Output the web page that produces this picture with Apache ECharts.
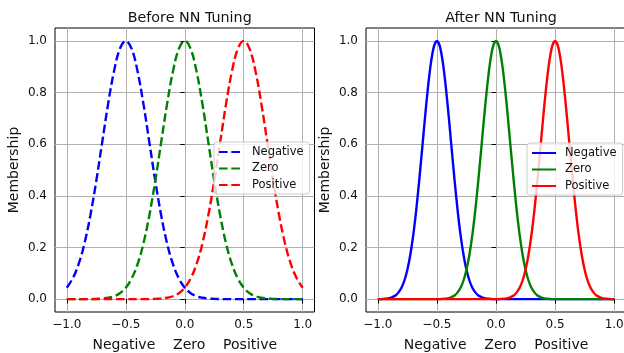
<!DOCTYPE html>
<html>
<head>
<meta charset="utf-8">
<script src="https://cdn.jsdelivr.net/npm/echarts@6/dist/echarts.min.js"></script>
<style>html,body{margin:0;padding:0;background:#fff}#c{width:624px;height:353px}</style>
</head>
<body>
<div id="c"></div>
<script>
const titles = ['Before NN Tuning', 'After NN Tuning'];
const seriesNames = ['Negative', 'Zero', 'Positive'];
const xTicks = [-1.0, -0.5, 0.0, 0.5, 1.0];
const yTicks = [0.0, 0.2, 0.4, 0.6, 0.8, 1.0];
const xLabelText = 'Negative    Zero    Positive';
const yLabelText = 'Membership';

const xBefore = [-1.00,-0.95,-0.90,-0.85,-0.80,-0.75,-0.70,-0.65,-0.60,-0.55,-0.50,-0.45,-0.40,-0.35,-0.30,-0.25,-0.20,-0.15,-0.10,-0.05,0.00,0.05,0.10,0.15,0.20,0.25,0.30,0.35,0.40,0.45,0.50,0.55,0.60,0.65,0.70,0.75,0.80,0.85,0.90,0.95,1.00];
const negBefore = [0.044,0.080,0.135,0.216,0.325,0.458,0.607,0.755,0.882,0.969,1.000,0.969,0.882,0.755,0.607,0.458,0.325,0.216,0.135,0.080,0.044,0.023,0.011,0.005,0.002,0.001,0.000,0,0,0,0,0,0,0,0,0,0,0,0,0,0];
const zeroBefore = [0,0,0,0,0,0.001,0.002,0.005,0.011,0.023,0.044,0.080,0.135,0.216,0.325,0.458,0.607,0.755,0.882,0.969,1.000,0.969,0.882,0.755,0.607,0.458,0.325,0.216,0.135,0.080,0.044,0.023,0.011,0.005,0.002,0.001,0,0,0,0,0];
const posBefore = [0,0,0,0,0,0,0,0,0,0,0,0,0,0,0.000,0.001,0.002,0.005,0.011,0.023,0.044,0.080,0.135,0.216,0.325,0.458,0.607,0.755,0.882,0.969,1.000,0.969,0.882,0.755,0.607,0.458,0.325,0.216,0.135,0.080,0.044];

const xAfter = [-1.000,-0.975,-0.950,-0.925,-0.900,-0.875,-0.850,-0.825,-0.800,-0.775,-0.750,-0.725,-0.700,-0.675,-0.650,-0.625,-0.600,-0.575,-0.550,-0.525,-0.500,-0.475,-0.450,-0.425,-0.400,-0.375,-0.350,-0.325,-0.300,-0.275,-0.250,-0.225,-0.200,-0.175,-0.150,-0.125,-0.100,-0.075,-0.050,-0.025,0.000,0.025,0.050,0.075,0.100,0.125,0.150,0.175,0.200,0.225,0.250,0.275,0.300,0.325,0.350,0.375,0.400,0.425,0.450,0.475,0.500,0.525,0.550,0.575,0.600,0.625,0.650,0.675,0.700,0.725,0.750,0.775,0.800,0.825,0.850,0.875,0.900,0.925,0.950,0.975,1.000];
const negAfter = [0,0,0.001,0.002,0.004,0.008,0.014,0.026,0.044,0.072,0.114,0.172,0.249,0.345,0.458,0.581,0.707,0.823,0.917,0.979,1.000,0.979,0.917,0.823,0.707,0.581,0.458,0.345,0.249,0.172,0.114,0.072,0.044,0.026,0.014,0.008,0.004,0.002,0.001,0,0,0,0,0,0,0,0,0,0,0,0,0,0,0,0,0,0,0,0,0,0,0,0,0,0,0,0,0,0,0,0,0,0,0,0,0,0,0,0,0,0];
const zeroAfter = [0,0,0,0,0,0,0,0,0,0,0,0,0,0,0,0,0,0,0,0,0,0,0.001,0.002,0.004,0.008,0.014,0.026,0.044,0.072,0.114,0.172,0.249,0.345,0.458,0.581,0.707,0.823,0.917,0.979,1.000,0.979,0.917,0.823,0.707,0.581,0.458,0.345,0.249,0.172,0.114,0.072,0.044,0.026,0.014,0.008,0.004,0.002,0.001,0,0,0,0,0,0,0,0,0,0,0,0,0,0,0,0,0,0,0,0,0,0];
const posAfter = [0,0,0,0,0,0,0,0,0,0,0,0,0,0,0,0,0,0,0,0,0,0,0,0,0,0,0,0,0,0,0,0,0,0,0,0,0,0,0,0,0,0,0.001,0.002,0.004,0.008,0.014,0.026,0.044,0.072,0.114,0.172,0.249,0.345,0.458,0.581,0.707,0.823,0.917,0.979,1.000,0.979,0.917,0.823,0.707,0.581,0.458,0.345,0.249,0.172,0.114,0.072,0.044,0.026,0.014,0.008,0.004,0.002,0.001,0,0];

const colors = ['#0000ff', '#008000', '#ff0000'];
const FONT = 'DejaVu Sans';
const TXT = '#111';

function pairs(xs, ys) { return xs.map((x, i) => [x, ys[i]]); }
function fmt(v) { return v.toFixed(1).replace('-', '\u2212'); }

const grids = [
  { left: 55, top: 28, width: 259.5, height: 284 },
  { left: 366, top: 28, width: 260, height: 284 }
];

function xAxisFor(i) {
  return {
    type: 'value', gridIndex: i, min: -1.1, max: 1.1,
    axisLine: { show: false },
    axisTick: { show: true, length: 4.5, customValues: xTicks, lineStyle: { color: '#000', width: 1 } },
    axisLabel: { customValues: xTicks, formatter: fmt, fontFamily: FONT, fontSize: 12, color: TXT, margin: 7 },
    splitLine: { show: true, lineStyle: { color: '#b0b0b0', width: 1 } },
    name: xLabelText, nameLocation: 'middle', nameGap: 26,
    nameTextStyle: { fontFamily: FONT, fontSize: 14, color: TXT }
  };
}
function yAxisFor(i) {
  return {
    type: 'value', gridIndex: i, min: -0.05, max: 1.05,
    axisLine: { show: false },
    axisTick: { show: true, length: 4.5, customValues: yTicks, lineStyle: { color: '#000', width: 1 } },
    axisLabel: { customValues: yTicks, formatter: fmt, fontFamily: FONT, fontSize: 12, color: TXT, margin: 8 },
    splitLine: { show: true, lineStyle: { color: '#b0b0b0', width: 1 } },
    name: yLabelText, nameLocation: 'middle', nameGap: 34,
    nameTextStyle: { fontFamily: FONT, fontSize: 14, color: TXT }
  };
}

const beforeData = [negBefore, zeroBefore, posBefore];
const afterData = [negAfter, zeroAfter, posAfter];
const series = [];
seriesNames.forEach((n, k) => {
  series.push({
    name: n, type: 'line', xAxisIndex: 0, yAxisIndex: 0, data: pairs(xBefore, beforeData[k]),
    showSymbol: false, symbol: 'none', smooth: 0.4, animation: false,
    lineStyle: { color: colors[k], width: 2.4, type: [8.6, 3.7] }, itemStyle: { color: colors[k] }
  });
});
seriesNames.forEach((n, k) => {
  series.push({
    name: n + ' (after)', type: 'line', xAxisIndex: 1, yAxisIndex: 1, data: pairs(xAfter, afterData[k]),
    showSymbol: false, symbol: 'none', smooth: 0.3, animation: false,
    lineStyle: { color: colors[k], width: 2.4, type: 'solid' }, itemStyle: { color: colors[k] }
  });
});

function legendFor(names, left, top) {
  return {
    data: names, orient: 'vertical', left: left, top: top,
    itemWidth: 24, itemHeight: 12, itemGap: 4.5,
    backgroundColor: 'rgba(255,255,255,0.8)', borderColor: '#cccccc', borderWidth: 1, borderRadius: 3,
    padding: [4, 6, 3, 4],
    itemStyle: { opacity: 0, color: 'transparent', borderWidth: 0 },
    formatter: (name) => name.replace(' (after)', ''),
    textStyle: { fontFamily: FONT, fontSize: 11.5, color: TXT, padding: [0, 0, 0, 4] },
    selectedMode: false
  };
}

const chart = echarts.init(document.getElementById('c'), null, { renderer: 'canvas' });
chart.setOption({
  backgroundColor: '#fff',
  animation: false,
  title: [
    { text: titles[0], left: 184.7, top: 6, textAlign: 'center', textStyle: { fontFamily: FONT, fontSize: 14.3, fontWeight: 'normal', color: TXT } },
    { text: titles[1], left: 496, top: 6, textAlign: 'center', textStyle: { fontFamily: FONT, fontSize: 14.3, fontWeight: 'normal', color: TXT } }
  ],
  grid: grids.map(g => Object.assign({ show: true, borderColor: '#000', borderWidth: 1, backgroundColor: 'transparent', containLabel: false, outerBoundsMode: 'none' }, g)),
  xAxis: [xAxisFor(0), xAxisFor(1)],
  yAxis: [yAxisFor(0), yAxisFor(1)],
  legend: [
    legendFor(seriesNames, 214, 142),
    legendFor(seriesNames.map(n => n + ' (after)'), 527, 143)
  ],
  series: series
});
</script>
</body>
</html>
